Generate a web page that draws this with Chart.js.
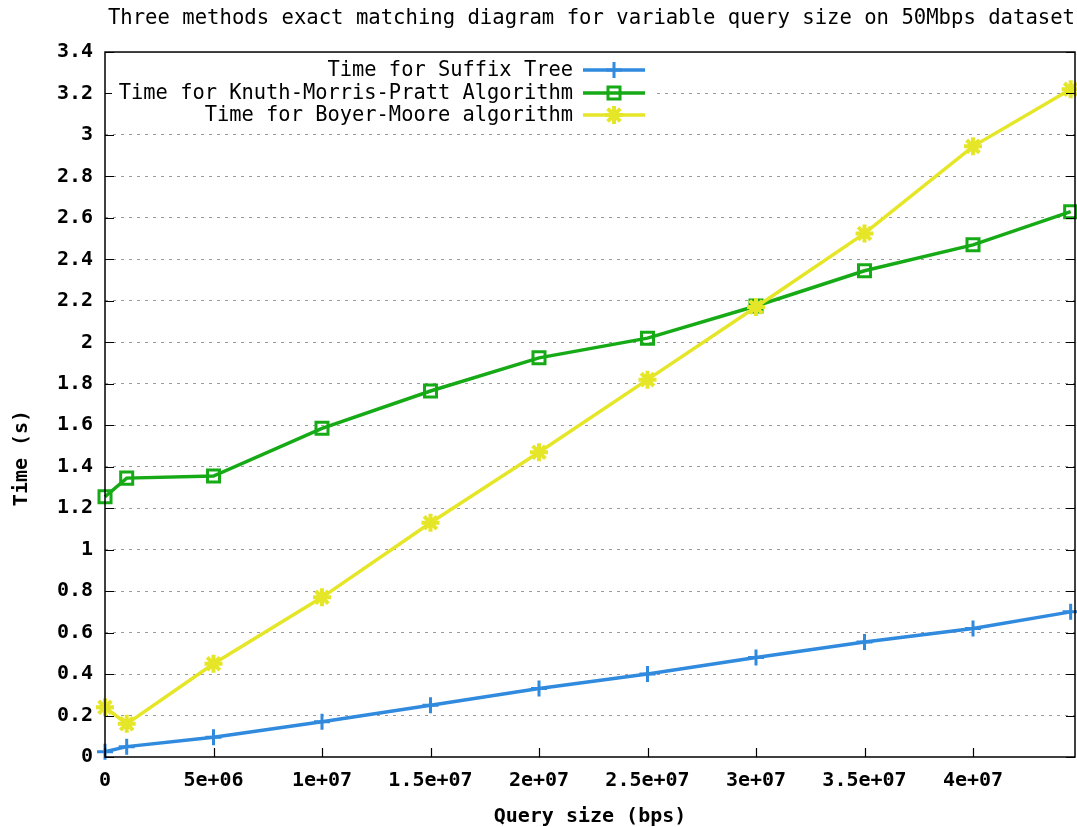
<!DOCTYPE html>
<html>
<head>
<meta charset="utf-8">
<script src="https://cdn.jsdelivr.net/npm/chart.js@4/dist/chart.umd.min.js"></script>
<style>
  html, body { margin: 0; padding: 0; background: #fff; }
  #wrap { width: 1077px; height: 827px; }
</style>
</head>
<body>
<div id="wrap"><canvas id="match_chart"></canvas></div>
<script>
// query sizes (bps) and timings (s) for each matcher
const querySizes = [0, 1e6, 5e6, 1e7, 1.5e7, 2e7, 2.5e7, 3e7, 3.5e7, 4e7, 4.45e7];
const suffixTree = [0.025, 0.05, 0.095, 0.17, 0.25, 0.33, 0.40, 0.48, 0.555, 0.62, 0.70];
const kmpTimes = [1.255, 1.345, 1.355, 1.585, 1.765, 1.925, 2.02, 2.175, 2.345, 2.47, 2.63];
const boyerMoore = [0.24, 0.16, 0.45, 0.77, 1.13, 1.47, 1.82, 2.17, 2.525, 2.945, 3.22];

const seriesNames = ['Time for Suffix Tree', 'Time for Knuth-Morris-Pratt Algorithm', 'Time for Boyer-Moore algorithm'];
const xTicks = [0, 5e6, 1e7, 1.5e7, 2e7, 2.5e7, 3e7, 3.5e7, 4e7];
const xTickLabels = ['0', '5e+06', '1e+07', '1.5e+07', '2e+07', '2.5e+07', '3e+07', '3.5e+07', '4e+07'];

const MONO = '"DejaVu Sans Mono", "Liberation Mono", monospace';

function toPoints(values){
    return values.map((v, i) => ({x: querySizes[i], y: v}));
}

// gnuplot style frame: box, inward tics, key inside the plot
const framePlugin = {
    id: 'frame',
    afterDatasetsDraw(chart){
        const ctx = chart.ctx;
        const area = chart.chartArea;
        const xs = chart.scales.x;
        const ys = chart.scales.y;
        ctx.save();
        ctx.strokeStyle = '#000';
        ctx.lineWidth = 1.5;
        ctx.strokeRect(area.left, area.top, area.right - area.left, area.bottom - area.top);

        ctx.lineWidth = 1.2;
        ctx.beginPath();
        ys.ticks.forEach(t => {
            const py = Math.round(ys.getPixelForValue(t.value)) + 0.5;
            ctx.moveTo(area.left, py); ctx.lineTo(area.left + 9, py);
            ctx.moveTo(area.right, py); ctx.lineTo(area.right - 9, py);
        });
        xTicks.forEach(v => {
            const px = Math.round(xs.getPixelForValue(v)) + 0.5;
            ctx.moveTo(px, area.bottom); ctx.lineTo(px, area.bottom - 9);
        });
        ctx.stroke();

        // key
        const rows = [70, 93, 115];
        ctx.font = '20.4px ' + MONO;
        ctx.textAlign = 'right';
        ctx.textBaseline = 'middle';
        chart.data.datasets.forEach((ds, i) => {
            const y = rows[i];
            ctx.fillStyle = '#fff';
            ctx.fillRect(112, y - 11, 540, 22);
            ctx.fillStyle = '#000';
            ctx.fillText(seriesNames[i], 573, y + 1);
            ctx.strokeStyle = ds.borderColor;
            ctx.lineWidth = ds.borderWidth;
            ctx.beginPath();
            ctx.moveTo(583, y); ctx.lineTo(645, y);
            ctx.stroke();
            ctx.lineWidth = ds.pointBorderWidth;
            ctx.fillStyle = ds.pointBackgroundColor;
            Chart.helpers.drawPoint(ctx, {
                pointStyle: ds.pointStyle,
                rotation: 0,
                radius: ds.pointRadius,
                borderWidth: ds.pointBorderWidth
            }, 614, y);
        });

        // y axis title
        ctx.save();
        ctx.translate(22, 458);
        ctx.rotate(-Math.PI / 2);
        ctx.textAlign = 'center';
        ctx.textBaseline = 'middle';
        ctx.fillStyle = '#000';
        ctx.font = 'bold 20px ' + MONO;
        ctx.fillText('Time (s)', 0, 0);
        ctx.restore();
        ctx.restore();
    }
};

window.addEventListener('load', function(){
    const ctx = document.getElementById('match_chart').getContext('2d');

    new Chart(ctx, {
        type: 'line',
        data: {
            datasets: [{
                label: seriesNames[0],
                data: toPoints(suffixTree),
                borderColor: 'rgb(48, 138, 222)',
                borderWidth: 3.5,
                pointStyle: 'cross',
                pointRadius: 8,
                pointBorderWidth: 3,
                pointBackgroundColor: 'rgba(0,0,0,0)',
                order: 2
            }, {
                label: seriesNames[1],
                data: toPoints(kmpTimes),
                borderColor: 'rgb(22, 170, 22)',
                borderWidth: 3.5,
                pointStyle: 'rect',
                pointRadius: 8.5,
                pointBorderWidth: 3,
                pointBackgroundColor: 'rgba(255,255,255,0)',
                order: 1
            }, {
                label: seriesNames[2],
                data: toPoints(boyerMoore),
                borderColor: 'rgb(230, 230, 40)',
                borderWidth: 3.5,
                pointStyle: 'star',
                pointRadius: 9,
                pointBorderWidth: 4,
                pointBackgroundColor: 'rgba(0,0,0,0)',
                order: 0
            }]
        },
        options: {
            responsive: true,
            maintainAspectRatio: false,
            animation: false,
            clip: false,
            layout: { autoPadding: false, padding: { left: 0, right: 2, top: 0, bottom: 0 } },
            elements: { line: { tension: 0 } },
            plugins: {
                legend: { display: false },
                tooltip: { enabled: false },
                title: {
                    display: true,
                    text: 'Three methods exact matching diagram for variable query size on 50Mbps dataset',
                    color: '#000',
                    font: { family: MONO, size: 20.6, weight: 'normal', lineHeight: 1.2 },
                    padding: { top: 6, bottom: 21.3 },
                    align: 'end'
                }
            },
            scales: {
                x: {
                    type: 'linear',
                    min: 0,
                    max: 4.47e7,
                    afterBuildTicks: function(scale){
                        scale.ticks = xTicks.map(v => ({value: v}));
                    },
                    afterFit: function(scale){
                        scale.height = 70;
                        scale.paddingLeft = 0;
                        scale.paddingRight = 0;
                    },
                    grid: { display: false, drawTicks: false },
                    border: { display: false },
                    ticks: {
                        color: '#000',
                        font: { family: MONO, size: 20, weight: 'bold' },
                        padding: 12,
                        maxRotation: 0,
                        autoSkip: false,
                        callback: function(value, index){ return xTickLabels[index]; }
                    },
                    title: {
                        display: true,
                        text: 'Query size (bps)',
                        color: '#000',
                        font: { family: MONO, size: 20, weight: 'bold' },
                        padding: { top: 8, bottom: -2 }
                    }
                },
                y: {
                    min: 0,
                    max: 3.4,
                    afterFit: function(scale){ scale.width = 105; },
                    grid: {
                        color: function(c){ return (c.tick.value <= 0 || c.tick.value >= 3.39) ? 'rgba(0,0,0,0)' : '#9a9a9a'; },
                        lineWidth: 1,
                        drawTicks: false
                    },
                    border: { display: false, dash: [3, 5] },
                    ticks: {
                        stepSize: 0.2,
                        color: '#000',
                        font: { family: MONO, size: 20, weight: 'bold' },
                        padding: 12,
                        callback: function(value){ return String(Number(value.toFixed(1))); }
                    }
                }
            }
        },
        plugins: [framePlugin]
    });
});
</script>
</body>
</html>
